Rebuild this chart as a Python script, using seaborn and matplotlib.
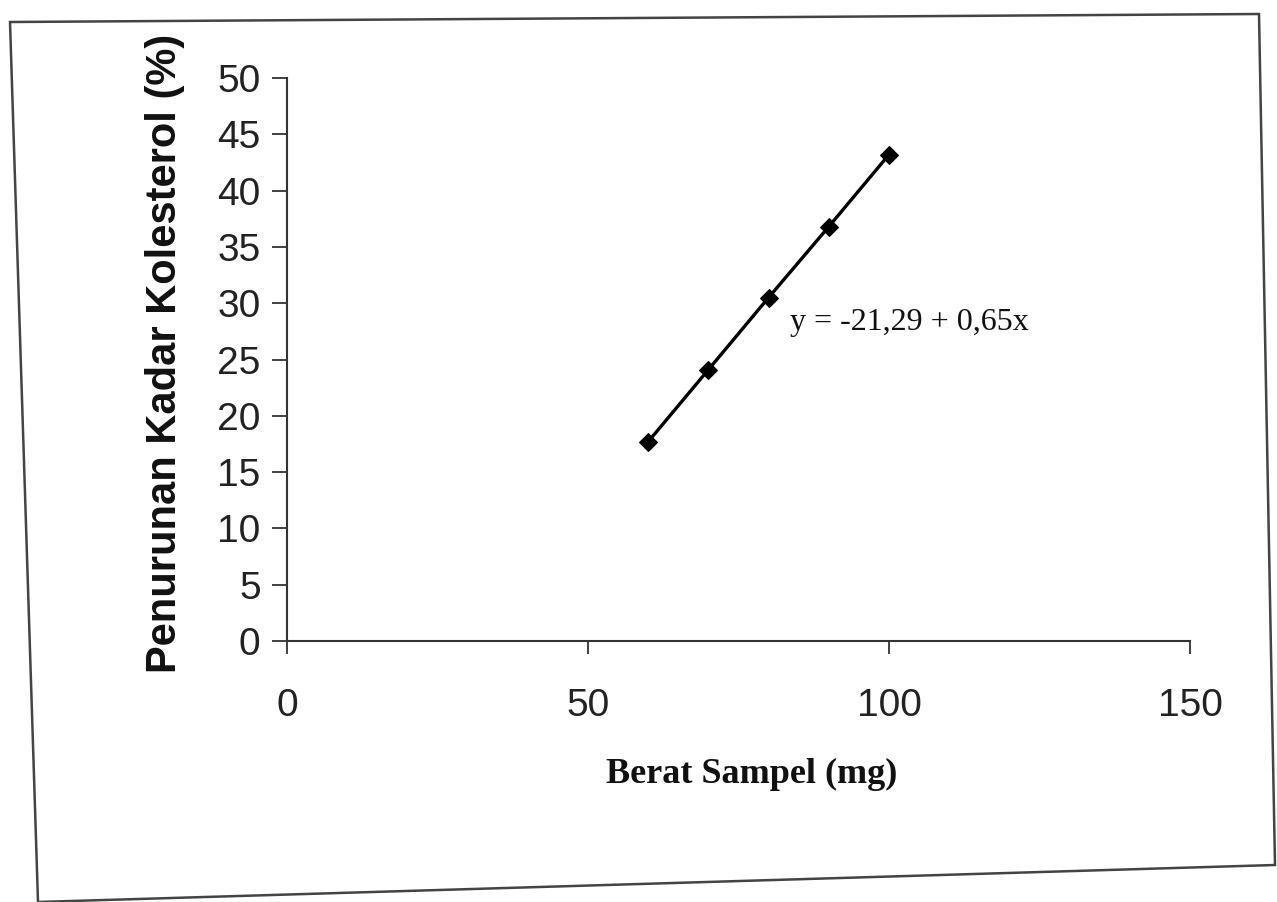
import matplotlib
matplotlib.use("Agg")
import matplotlib.pyplot as plt
import seaborn as sns
import pandas as pd
from matplotlib.patches import Polygon

# data
berat_sampel = [60, 70, 80, 90, 100]
penurunan = [17.7, 24.1, 30.5, 36.8, 43.2]
x_ticks = [0, 50, 100, 150]
y_ticks = [0, 5, 10, 15, 20, 25, 30, 35, 40, 45, 50]
equation = "y = -21,29 + 0,65x"

sns.set_theme(style="white")
plt.rcParams['font.family'] = ['Liberation Sans', 'DejaVu Sans']

W, H = 1277, 902
fig = plt.figure(figsize=(W / 100, H / 100), dpi=100)
ax = fig.add_axes([287 / W, 1 - 641 / H, (1190 - 287) / W, (641 - 78) / H])

df = pd.DataFrame({"x": berat_sampel, "y": penurunan})
sns.lineplot(data=df, x="x", y="y", ax=ax, color="black", linewidth=2.4,
             marker="D", markersize=9, markeredgecolor="black",
             markerfacecolor="black")

ax.set_xlim(0, 150)
ax.set_ylim(0, 50)
ax.set_xticks(x_ticks)
ax.set_yticks(y_ticks)
ax.set_xticklabels([str(t) for t in x_ticks])
ax.set_yticklabels([str(t) for t in y_ticks])

for s in ["top", "right"]:
    ax.spines[s].set_visible(False)
for s in ["left", "bottom"]:
    ax.spines[s].set_color("#333333")
    ax.spines[s].set_linewidth(1.5)

ax.tick_params(axis="x", direction="out", length=9, width=1.3, color="#333333",
               labelsize=28, pad=25, bottom=True)
ax.tick_params(axis="y", direction="out", length=11, width=1.3, color="#333333",
               labelsize=28, pad=8, left=True)
for lab in ax.get_xticklabels() + ax.get_yticklabels():
    lab.set_color("#222222")

ax.set_ylabel("Penurunan Kadar Kolesterol (%)", fontsize=30, fontweight="bold",
              color="#111111", family=["Liberation Sans", "DejaVu Sans"])
ax.yaxis.set_label_coords(-(287 - 185) / (1190 - 287), 0.51)
ax.set_xlabel("Berat Sampel (mg)", fontsize=26, fontweight="bold",
              color="#111111", family=["Liberation Serif", "DejaVu Serif"])
ax.xaxis.set_label_coords((752 - 287) / (1190 - 287), -(758 - 641) / (641 - 78))

ax.text(0.557, 0.565, equation, transform=ax.transAxes, fontsize=23,
        family=["Liberation Serif", "DejaVu Serif"], color="#111111",
        ha="left", va="center")

# outer scanned frame
pts = [(10, 22), (1259, 14), (1275, 865), (38, 902)]
poly = Polygon([(px / W, 1 - py / H) for px, py in pts], closed=True,
               fill=False, edgecolor="#444444", linewidth=1.8,
               transform=fig.transFigure, clip_on=False)
fig.patches.append(poly)

fig.savefig("out.png", dpi=100, facecolor="white")
